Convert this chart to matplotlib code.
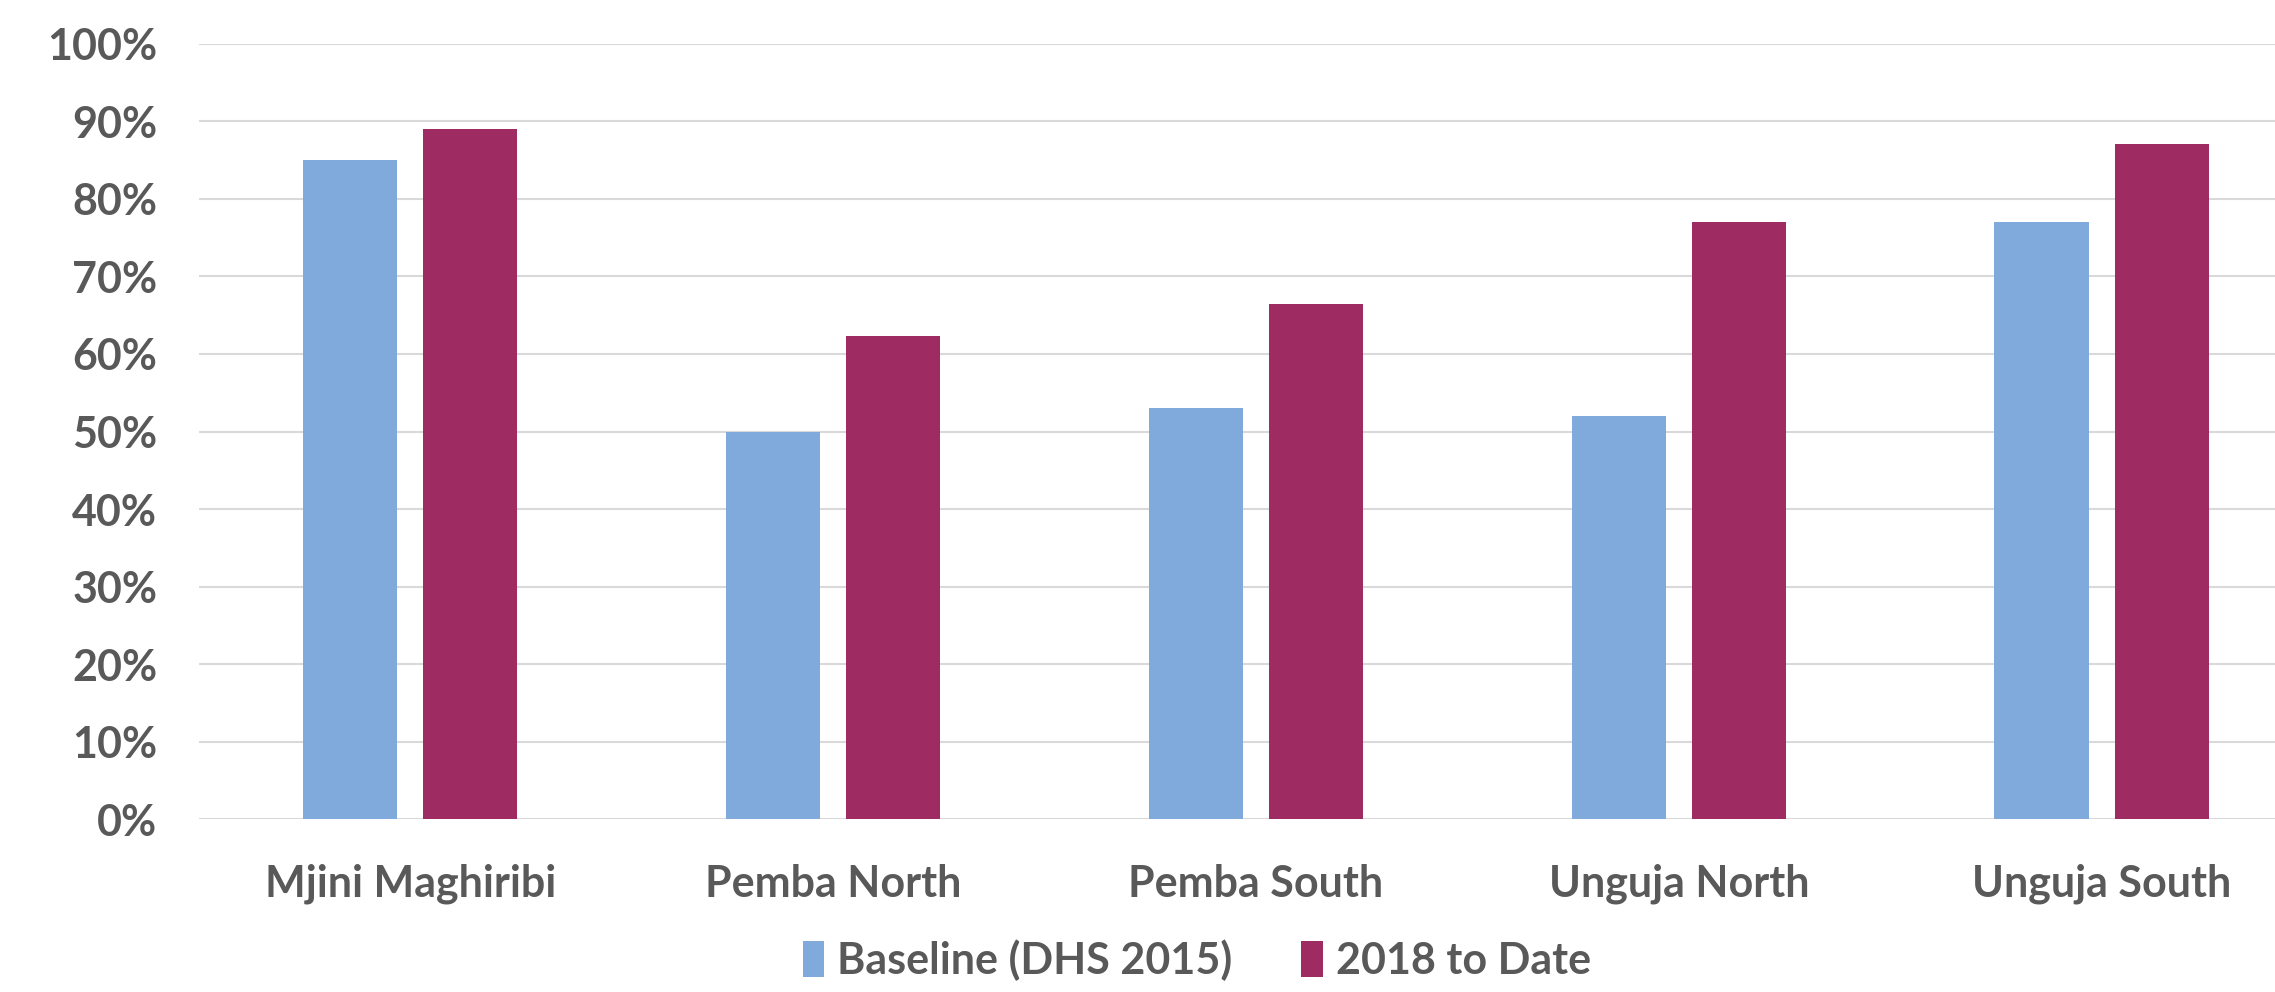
import matplotlib
matplotlib.use("Agg")
import matplotlib.pyplot as plt
import numpy as np
from matplotlib.ticker import FuncFormatter

categories = ["Mjini Maghiribi", "Pemba North", "Pemba South", "Unguja North", "Unguja South"]
series_names = ["Baseline (DHS 2015)", "2018 to Date"]
baseline = [85, 50, 53, 52, 77]
to_date = [89, 62.3, 66.5, 77, 87]
colors = ["#7FAADB", "#9E2B62"]
yticks = list(range(0, 101, 10))

plt.rcParams['font.family'] = ['Lato', 'DejaVu Sans']
text_color = "#595959"
fs = 31

fig = plt.figure(figsize=(22.75, 9.92), dpi=100)
ax = fig.add_axes([0.0874, 0.174, 0.9126, 0.782])

x = np.arange(len(categories))
w = 0.223
off = 0.142
ax.bar(x - off, baseline, width=w, color=colors[0], label=series_names[0], zorder=3)
ax.bar(x + off, to_date, width=w, color=colors[1], label=series_names[1], zorder=3)

ax.set_ylim(0, 100)
ax.set_xlim(-0.5, 4.41)
ax.set_yticks(yticks)
ax.yaxis.set_major_formatter(FuncFormatter(lambda v, p: f"{int(v)}%"))
ax.grid(axis='y', color="#D9D9D9", linewidth=1.5, zorder=0)
ax.set_xticks(x)
ax.set_xticklabels(categories)
for s in ax.spines.values():
    s.set_visible(False)
ax.tick_params(axis='both', length=0, labelsize=fs, labelcolor=text_color)
ax.tick_params(axis='y', pad=30)
ax.tick_params(axis='x', pad=32)
for lab in ax.get_xticklabels() + ax.get_yticklabels():
    lab.set_fontweight('bold')

leg = fig.legend(loc='center', bbox_to_anchor=(0.526, 0.032), ncol=2, frameon=False,
                 handlelength=0.5, handleheight=0.9, handletextpad=0.3, columnspacing=1.6,
                 prop={'size': fs, 'weight': 'bold'})
for t in leg.get_texts():
    t.set_color(text_color)

fig.savefig("out.png", dpi=100, facecolor="white")
